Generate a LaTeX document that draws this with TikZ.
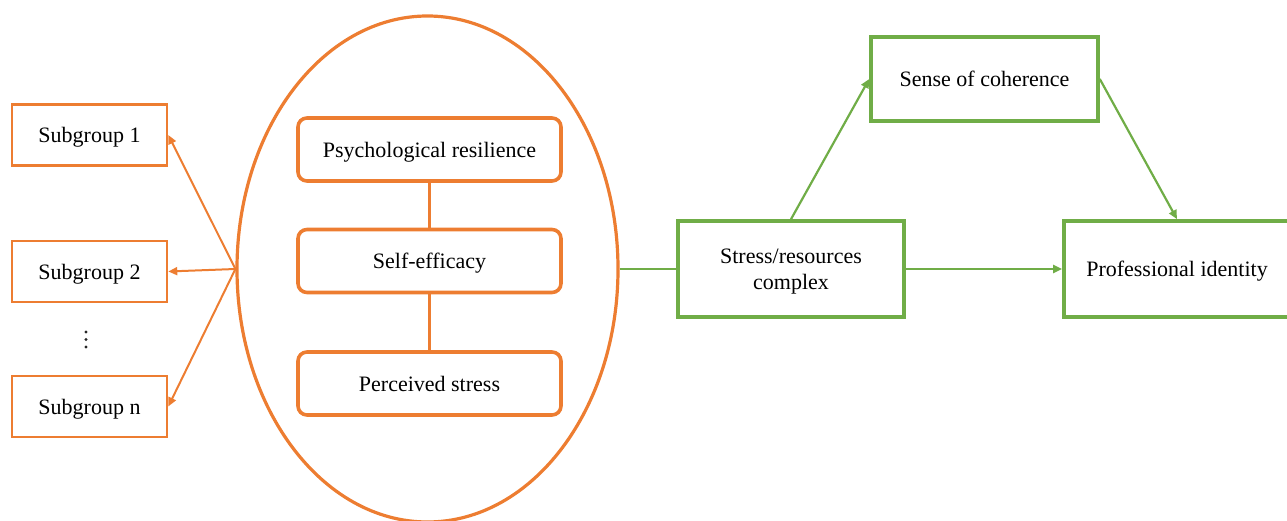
\documentclass[tikz,border=0pt]{standalone}
\usepackage{fontspec}
\setmainfont{Liberation Serif}
\usetikzlibrary{arrows.meta,shapes.geometric}
\definecolor{orng}{HTML}{ED7D31}
\definecolor{grn}{HTML}{70AD47}
\begin{document}
\begin{tikzpicture}[x=1pt,y=-1pt,
  txt/.style={font=\fontsize{22}{26}\selectfont, align=center, inner sep=0pt, text depth=0pt},
  subbox/.style={txt, draw=orng, line width=2.6pt, minimum width=155pt, minimum height=61pt},
  factor/.style={txt, draw=orng, line width=3.6pt, rounded corners=9pt, minimum width=263pt, minimum height=63pt},
  gbox/.style={txt, draw=grn, line width=3.6pt, minimum width=226pt},
  oarrow/.style={draw=orng, line width=2pt, -{Triangle[length=9pt,width=8pt]}},
  garrow/.style={draw=grn, line width=2.2pt, -{Triangle[length=9pt,width=8pt]}},
  vdot/.style={circle, fill=black!85, inner sep=0pt, minimum size=3.4pt}]
\useasboundingbox (0,0) rectangle (1287,521);

% left: subgroups
\node[subbox] (s1) at (89.5,135) {Subgroup 1};
\node[subbox] (s2) at (89.5,271.5) {Subgroup 2};
\node[subbox] (sn) at (89.5,406.5) {Subgroup n};
\node[vdot] (d1) at (86,332) {};
\node[vdot] (d2) at (86,339.5) {};
\node[vdot] (d3) at (86,347) {};

% the orange ellipse with its three factors
\node[draw=orng, line width=3.2pt, ellipse, minimum width=381pt, minimum height=506pt, inner sep=0pt] (ell) at (427.5,269) {};
\node[factor] (psy) at (429.5,149.5) {Psychological resilience};
\node[factor] (se) at (429.5,261) {Self-efficacy};
\node[factor] (ps) at (429.5,383.5) {Perceived stress};
\draw[orng, line width=3.6pt] (psy.south) -- (se.north);
\draw[orng, line width=3.6pt] (se.south) -- (ps.north);

\draw[oarrow] (ell.west) -- (s1.east);
\draw[oarrow] (ell.west) -- (s2.east);
\draw[oarrow] (ell.west) -- (sn.east);

% right: green model
\node[gbox, minimum height=96pt] (src) at (791,269) {Stress/resources\\complex};
\node[gbox, minimum width=227pt, minimum height=84pt] (soc) at (984.5,79) {Sense of coherence};
\node[gbox, minimum height=96pt] (pid) at (1177,269) {Professional identity};

\draw[grn, line width=2.2pt] (ell.east) -- (src.west);
\draw[garrow] (src.north) -- (soc.west);
\draw[garrow] (soc.east) -- (pid.north);
\draw[garrow] (src.east) -- (pid.west);
\end{tikzpicture}
\end{document}
